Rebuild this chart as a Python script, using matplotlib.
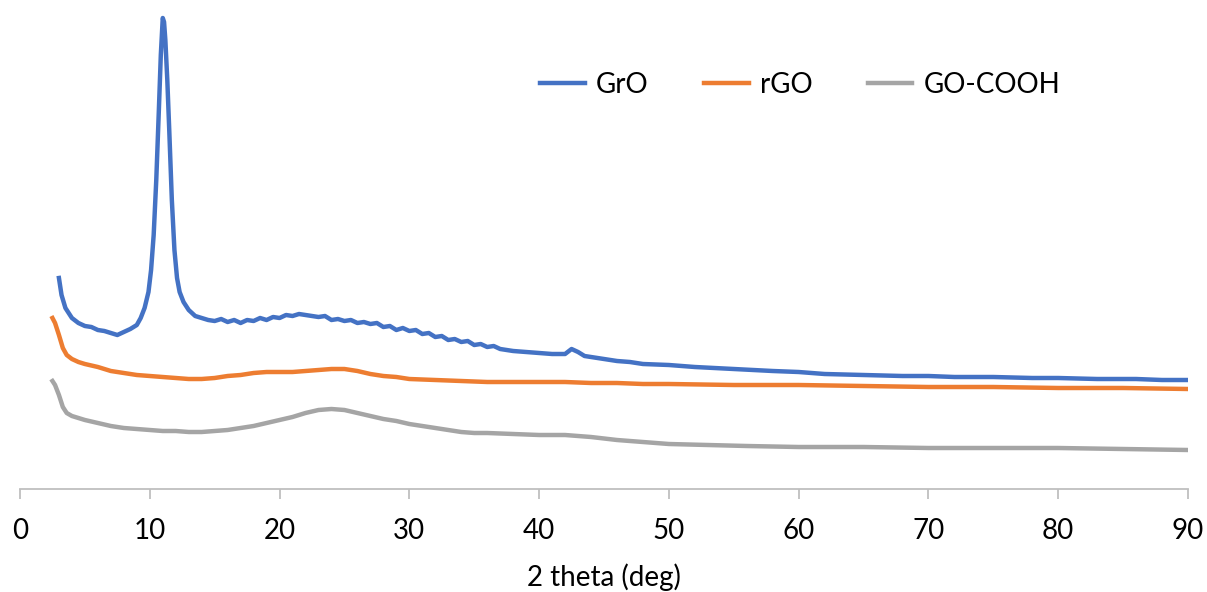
import numpy as np
import matplotlib
matplotlib.use("Agg")
import matplotlib.pyplot as plt

# XRD patterns, intensity in arbitrary units
grO_x = [3.0, 3.2, 3.5, 4.0, 4.5, 5.0, 5.5, 6.0, 6.5, 7.0, 7.5, 8.0, 8.5, 9.0, 9.3, 9.6, 9.9,
         10.1, 10.3, 10.5, 10.7, 10.85, 11.0, 11.1, 11.2, 11.35, 11.5, 11.7, 11.9, 12.1, 12.3,
         12.6, 13.0, 13.5, 14.0, 14.5, 15.0, 15.5, 16.0, 16.5, 17.0, 17.5, 18.0, 18.5, 19.0,
         19.5, 20.0, 20.5, 21.0, 21.5, 22.0, 22.5, 23.0, 23.5, 24.0, 24.5, 25.0, 25.5, 26.0,
         26.5, 27.0, 27.5, 28.0, 28.5, 29.0, 29.5, 30.0, 30.5, 31.0, 31.5, 32.0, 32.5, 33.0,
         33.5, 34.0, 34.5, 35.0, 35.5, 36.0, 36.5, 37.0, 38.0, 39.0,
         40.0, 41.0, 42.0, 42.5, 43.0, 43.5, 44.0, 45.0, 46.0, 47.0, 48.0, 50.0, 52.0, 55.0,
         58.0, 60.0, 62.0, 65.0, 68.0, 70.0, 72.0, 75.0, 78.0, 80.0, 83.0, 86.0, 88.0, 90.0]
grO_y = [211, 194, 181, 171, 166, 163, 162, 159, 158, 156, 154, 157, 160, 164, 171, 181, 197,
         219, 254, 309, 379, 434, 471, 467, 449, 409, 359, 289, 239, 211, 197,
         187, 179, 173, 171, 169, 168, 170, 167, 169, 166, 169, 168, 171, 169,
         172, 171, 174, 173, 175, 174, 173, 172, 173, 169, 170, 168, 169, 166,
         167, 165, 166, 162, 163, 159, 161, 158, 159, 155, 156, 152, 153, 149,
         150, 147, 148, 144, 145, 142, 143, 140, 138, 137,
         136, 135, 135, 140, 137, 133, 132, 130, 128, 127, 125, 124, 122, 120,
         118, 117, 115, 114, 113, 113, 112, 112, 111, 111, 110, 110, 109, 109]

rgo_x = [2.5, 2.7, 3.0, 3.3, 3.6, 4.0, 4.5, 5.0, 6.0, 7.0, 8.0, 9.0, 10.0, 11.0, 12.0, 13.0,
         14.0, 15.0, 16.0, 17.0, 18.0, 19.0, 20.0, 21.0, 22.0, 23.0, 24.0, 25.0, 26.0, 27.0,
         28.0, 29.0, 30.0, 32.0, 34.0, 36.0, 38.0, 40.0, 42.0, 44.0, 46.0, 48.0, 50.0, 55.0,
         60.0, 65.0, 70.0, 75.0, 80.0, 85.0, 90.0]
rgo_y = [171, 166, 154, 141, 134, 130, 127, 125, 122, 118, 116, 114, 113, 112, 111, 110,
         110, 111, 113, 114, 116, 117, 117, 117, 118, 119, 120, 120, 118, 115,
         113, 112, 110, 109, 108, 107, 107, 107, 107, 106, 106, 105, 105, 104,
         104, 103, 102, 102, 101, 101, 100]

gocooh_x = [2.5, 2.7, 3.0, 3.3, 3.6, 4.0, 4.5, 5.0, 6.0, 7.0, 8.0, 9.0, 10.0, 11.0, 12.0, 13.0,
            14.0, 15.0, 16.0, 17.0, 18.0, 19.0, 20.0, 21.0, 22.0, 23.0, 24.0, 25.0, 26.0, 27.0,
            28.0, 29.0, 30.0, 31.0, 32.0, 33.0, 34.0, 35.0, 36.0, 38.0, 40.0, 42.0, 44.0, 46.0,
            48.0, 50.0, 53.0, 56.0, 60.0, 65.0, 70.0, 75.0, 80.0, 85.0, 90.0]
gocooh_y = [108, 104, 94, 82, 76, 73, 71, 69, 66, 63, 61, 60, 59, 58, 58, 57,
            57, 58, 59, 61, 63, 66, 69, 72, 76, 79, 80, 79, 76, 73,
            70, 68, 65, 63, 61, 59, 57, 56, 56, 55, 54, 54, 52, 49,
            47, 45, 44, 43, 42, 42, 41, 41, 41, 40, 39]

x_ticks = [0, 10, 20, 30, 40, 50, 60, 70, 80, 90]

plt.rcParams["font.family"] = ["Lato", "DejaVu Sans"]

fig = plt.figure(figsize=(12.07, 5.92), dpi=100)
ax = fig.add_axes([20 / 1207, (592 - 489) / 592, 1168 / 1207, 489 / 592])

ax.plot(grO_x, grO_y, color="#4472C4", lw=3.2, label="GrO")
ax.plot(rgo_x, rgo_y, color="#ED7D31", lw=3.2, label="rGO")
ax.plot(gocooh_x, gocooh_y, color="#A5A5A5", lw=3.2, label="GO-COOH")

ax.set_xlim(0, 90)
ax.set_ylim(0, 489)
ax.set_xticks(x_ticks)
ax.set_yticks([])
for side in ["left", "right", "top"]:
    ax.spines[side].set_visible(False)
ax.spines["bottom"].set_color("#BFBFBF")
ax.spines["bottom"].set_linewidth(1.3)
ax.tick_params(axis="x", direction="out", length=7, width=1.3, color="#BFBFBF",
               labelsize=20, pad=14)
ax.set_xlabel("2 theta (deg)", fontsize=20, labelpad=14)

ax.legend(loc="center", bbox_to_anchor=(0.668, 0.826), ncol=3, frameon=False,
          fontsize=20, handlelength=1.6, handletextpad=0.4, columnspacing=2.0)

fig.savefig("out.png", dpi=100)
